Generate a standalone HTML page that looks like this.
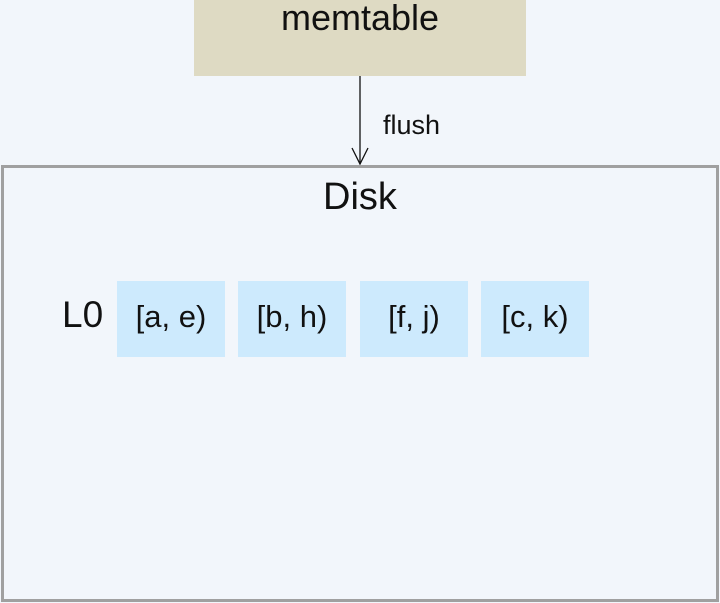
<!DOCTYPE html>
<html><head><style>
body{margin:0;width:720px;height:603px;background:#f2f6fb;position:relative;overflow:hidden;font-family:"Liberation Sans",sans-serif;color:#111}
div{position:absolute}
.b{background:#cdeafd;top:281px;height:76px;width:108px;text-align:center;line-height:72px;font-size:31px}
</style></head><body>
<div style="left:194px;top:0;width:332px;height:76px;background:#dedac3;text-align:center;font-size:36px;line-height:36px">memtable</div>
<svg style="position:absolute;left:0;top:0" width="720" height="603">
<line x1="360" y1="76" x2="360" y2="164" stroke="#111" stroke-width="1.3"/>
<polyline points="352,148 360,164 368,148" fill="none" stroke="#111" stroke-width="1.3"/>
<rect x="2.5" y="166.5" width="715" height="434" fill="none" stroke="#a0a0a0" stroke-width="3"/>
</svg>
<div style="left:383px;top:110px;font-size:27px">flush</div>
<div style="left:0;width:720px;top:176px;text-align:center;font-size:38px">Disk</div>
<div style="left:62px;top:294px;font-size:37px">L0</div>
<div class="b" style="left:117px">[a, e)</div>
<div class="b" style="left:238px">[b, h)</div>
<div class="b" style="left:360px">[f, j)</div>
<div class="b" style="left:481px">[c, k)</div>
</body></html>
